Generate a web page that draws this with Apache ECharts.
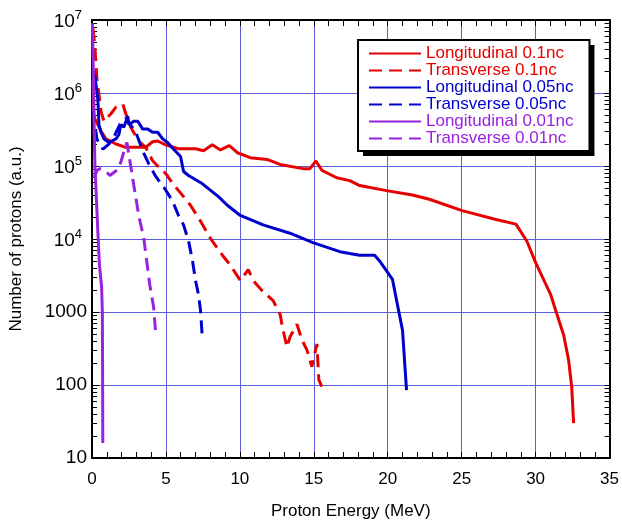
<!DOCTYPE html>
<html>
<head>
<meta charset="utf-8">
<script src="https://cdn.jsdelivr.net/npm/echarts@6/dist/echarts.min.js"></script>
<style>
  html, body { margin: 0; padding: 0; background: #fff; }
  #chart { width: 622px; height: 525px; }
</style>
</head>
<body>
<div id="chart"></div>
<script>
// [energy MeV, protons]
const longitudinal01 = [
  [0.05, 1.5e6], [0.13, 4.7e5], [0.61, 3.0e5], [0.94, 2.35e5], [1.62, 2.0e5], [2.29, 1.8e5],
  [3.16, 1.8e5], [3.63, 1.8e5], [4.1, 2.15e5], [4.44, 2.2e5], [4.98, 1.95e5], [5.85, 1.72e5],
  [7.0, 1.72e5], [7.54, 1.62e5], [8.14, 1.95e5], [8.68, 1.66e5], [9.29, 1.9e5], [9.83, 1.52e5],
  [10.7, 1.3e5], [11.84, 1.23e5], [12.72, 1.05e5], [14.27, 9.2e4], [14.74, 9.2e4], [15.14, 1.17e5],
  [15.55, 8.7e4], [16.55, 6.9e4], [17.43, 6.3e4], [18.1, 5.4e4], [19.92, 4.6e4], [21.67, 4.0e4],
  [22.81, 3.5e4], [25.03, 2.45e4], [27.32, 1.85e4], [28.67, 1.6e4], [29.41, 9.3e3], [30.01, 4.7e3],
  [31.02, 1.73e3], [31.36, 1.05e3], [31.9, 480], [32.23, 220], [32.44, 95], [32.57, 30]
];
const transverse01 = [
  [0.07, 7.7e6], [0.2, 4.2e6], [0.34, 1.45e6], [0.47, 9.6e5], [0.61, 5.6e5], [0.81, 4.1e5],
  [1.28, 5.2e5], [1.62, 6.4e5], [2.09, 7.0e5], [2.29, 5.2e5], [2.62, 3.4e5], [3.16, 2.2e5],
  [3.63, 1.8e5], [4.1, 1.18e5], [4.44, 1.0e5], [4.98, 7.9e4], [5.45, 5.8e4], [6.19, 3.8e4],
  [6.66, 2.9e4], [7.34, 1.75e4], [8.01, 1.02e4], [8.82, 6.0e3], [9.35, 4.4e3], [10.03, 2.7e3],
  [10.57, 3.8e3], [10.9, 2.7e3], [11.51, 1.96e3], [12.25, 1.43e3], [12.72, 930], [12.92, 565],
  [13.19, 330], [13.39, 455], [13.86, 680], [14.2, 415], [14.54, 300], [14.87, 178],
  [15.21, 365], [15.34, 118], [15.54, 95]
];
const longitudinal005 = [
  [0.05, 2.0e6], [0.2, 1.7e6], [0.4, 8e5], [0.47, 3.7e5], [0.61, 2.9e5], [0.81, 2.35e5],
  [1.14, 2.1e5], [1.62, 2.35e5], [1.82, 2.7e5], [1.95, 3.7e5], [2.15, 3.4e5], [2.42, 4.8e5],
  [2.49, 3.7e5], [2.83, 4.1e5], [3.1, 4.1e5], [3.43, 3.2e5], [3.77, 3.2e5], [4.1, 2.9e5],
  [4.44, 2.9e5], [4.78, 2.35e5], [5.11, 2.1e5], [5.52, 1.7e5], [5.99, 1.35e5], [6.19, 8.4e4],
  [6.53, 7.4e4], [7.47, 5.7e4], [8.55, 3.8e4], [9.15, 2.9e4], [10.03, 2.1e4], [11.57, 1.56e4],
  [13.39, 1.2e4], [14.94, 8.9e3], [16.76, 6.7e3], [18.1, 6.0e3], [19.11, 6.0e3], [19.45, 5.0e3],
  [20.32, 2.8e3], [20.66, 1.25e3], [21.0, 560], [21.27, 85]
];
const transverse005 = [
  [0.05, 6e5], [0.34, 2.3e5], [0.74, 1.7e5], [1.14, 2.0e5], [1.48, 2.5e5], [1.88, 3.7e5],
  [2.3, 4.5e5], [2.96, 2.9e5], [3.5, 1.5e5], [3.84, 1.07e5], [4.31, 7.2e4], [4.98, 4.7e4],
  [5.45, 3.3e4], [5.85, 2.1e4], [6.19, 1.56e4], [6.53, 9.4e3], [6.8, 5.0e3], [7.0, 2.7e3],
  [7.2, 1.74e3], [7.34, 1.05e3], [7.47, 415]
];
const longitudinal001 = [
  [0.03, 9e6], [0.1, 1.5e6], [0.15, 3e5], [0.2, 1e5], [0.4, 1.2e4], [0.5, 4.5e3],
  [0.65, 2.2e3], [0.7, 1000], [0.72, 100], [0.73, 16]
];
const transverse001 = [
  [0.13, 6.8e4], [0.34, 8.7e4], [0.54, 9.2e4], [0.87, 8.7e4], [1.21, 7.4e4], [1.82, 9.2e4],
  [2.15, 1.56e5], [2.36, 2.1e5], [2.83, 5.4e4], [3.16, 2.1e4], [3.5, 1.03e4], [3.7, 5.0e3],
  [3.9, 2.4e3], [4.17, 1.16e3], [4.31, 500]
];

const seriesNames = [
  'Longitudinal 0.1nc', 'Transverse 0.1nc',
  'Longitudinal 0.05nc', 'Transverse 0.05nc',
  'Longitudinal 0.01nc', 'Transverse 0.01nc'
];
const seriesData = [longitudinal01, transverse01, longitudinal005, transverse005, longitudinal001, transverse001];
const seriesColors = ['#e60000', '#e60000', '#0000cc', '#0000cc', '#9922dd', '#9922dd'];
const seriesDashed = [false, true, false, true, false, true];

const xTicks = [0, 5, 10, 15, 20, 25, 30, 35];
const yDecades = [10, 100, 1000, 1e4, 1e5, 1e6, 1e7];
// log minor ticks 2..9 x 10^n
const yMinorTicks = [];
yDecades.forEach(function (d) {
  for (let m = 1; m <= 9; m++) {
    if (d * m <= 1e7) yMinorTicks.push(d * m);
  }
});

const font = 'Arial, "Liberation Sans", sans-serif';
const gridColor = '#5b5be0';

const chart = echarts.init(document.getElementById('chart'), null, { renderer: 'canvas' });

const series = seriesNames.map(function (name, i) {
  return {
    name: name,
    type: 'line',
    data: seriesData[i],
    symbol: 'none',
    showSymbol: false,
    color: seriesColors[i],
    lineStyle: {
      width: 3,
      color: seriesColors[i],
      type: seriesDashed[i] ? [13, 7] : 'solid'
    },
    animation: false,
    z: 3
  };
});

const xBase = {
  type: 'value',
  min: xTicks[0],
  max: xTicks[xTicks.length - 1],
  interval: 5,
  axisLine: { show: true, lineStyle: { color: '#000', width: 2 } },
  axisTick: { show: true, inside: true, length: 6, lineStyle: { color: '#000', width: 1 } },
  minorTick: { show: true, splitNumber: 5, length: 6, lineStyle: { color: '#000', width: 1 } }
};

// same layout for both legends: the back one only casts the drop shadow
const legendBase = {
  orient: 'vertical',
  left: 358,
  top: 40,
  padding: [5, 16, 4, 10],
  itemGap: 0,
  itemWidth: 52,
  itemHeight: 14,
  borderRadius: 0,
  selectedMode: false,
  itemStyle: { opacity: 0, borderWidth: 0 },
  textStyle: { fontSize: 17, lineHeight: 17, fontFamily: font }
};

const option = {
  animation: false,
  backgroundColor: '#fff',
  grid: { left: 91, top: 20, right: 10, bottom: 63, containLabel: false },
  legend: [
    Object.assign({}, legendBase, {
      z: 4,
      backgroundColor: '#fff',
      borderWidth: 0,
      shadowColor: '#000',
      shadowBlur: 0,
      shadowOffsetX: 5,
      shadowOffsetY: 5,
      lineStyle: { opacity: 0 },
      data: seriesNames.map(function (n) {
        return { name: n, textStyle: { color: 'rgba(0,0,0,0)' } };
      })
    }),
    Object.assign({}, legendBase, {
      z: 5,
      backgroundColor: 'rgba(0,0,0,0)',
      borderColor: '#000',
      borderWidth: 2,
      data: seriesNames.map(function (n, i) {
        return { name: n, textStyle: { color: seriesColors[i] } };
      })
    })
  ],
  xAxis: [
    Object.assign({}, xBase, {
      position: 'bottom',
      name: 'Proton Energy (MeV)',
      nameLocation: 'middle',
      nameGap: 45,
      nameTextStyle: { fontSize: 17, color: '#000', fontFamily: font },
      axisLabel: { show: true, fontSize: 17, color: '#000', margin: 13, fontFamily: font },
      splitLine: { show: true, lineStyle: { color: gridColor, width: 1 } }
    }),
    Object.assign({}, xBase, {
      position: 'top',
      axisLabel: { show: false },
      splitLine: { show: false }
    })
  ],
  yAxis: [
    {
      type: 'log',
      logBase: 10,
      min: 10,
      max: 1e7,
      position: 'left',
      name: 'Number of protons (a.u.)',
      nameLocation: 'middle',
      nameGap: 67,
      nameTextStyle: { fontSize: 17, color: '#000', fontFamily: font },
      axisLine: { show: true, lineStyle: { color: '#000', width: 2 } },
      axisTick: { show: true, inside: true, length: 7, lineStyle: { color: '#000' } },
      splitLine: { show: true, lineStyle: { color: gridColor, width: 1 } },
      axisLabel: {
        show: true,
        margin: 5,
        color: '#000',
        fontFamily: font,
        formatter: function (v) {
          const p = Math.round(Math.log10(v));
          if (p >= 4) return '{b|10}{s|' + p + '}';
          return '{b|' + Math.round(v) + '}';
        },
        rich: {
          b: { fontSize: 19, fontFamily: font, color: '#000', verticalAlign: 'bottom', padding: [0, 0, 0, 0] },
          s: { fontSize: 13, fontFamily: font, color: '#000', verticalAlign: 'bottom', padding: [0, 5, 9, 0] }
        }
      }
    },
    {
      type: 'log',
      logBase: 10,
      min: 10,
      max: 1e7,
      position: 'left',
      axisLine: { show: false },
      axisLabel: { show: false },
      splitLine: { show: false },
      axisTick: {
        show: true, inside: true, length: 5,
        customValues: yMinorTicks,
        lineStyle: { color: '#000' }
      }
    },
    {
      type: 'log',
      logBase: 10,
      min: 10,
      max: 1e7,
      position: 'right',
      axisLine: { show: true, lineStyle: { color: '#000', width: 2 } },
      axisLabel: { show: false },
      splitLine: { show: false },
      axisTick: {
        show: true, inside: true, length: 5,
        customValues: yMinorTicks,
        lineStyle: { color: '#000' }
      }
    }
  ],
  series: series
};

chart.setOption(option);
</script>
</body>
</html>
